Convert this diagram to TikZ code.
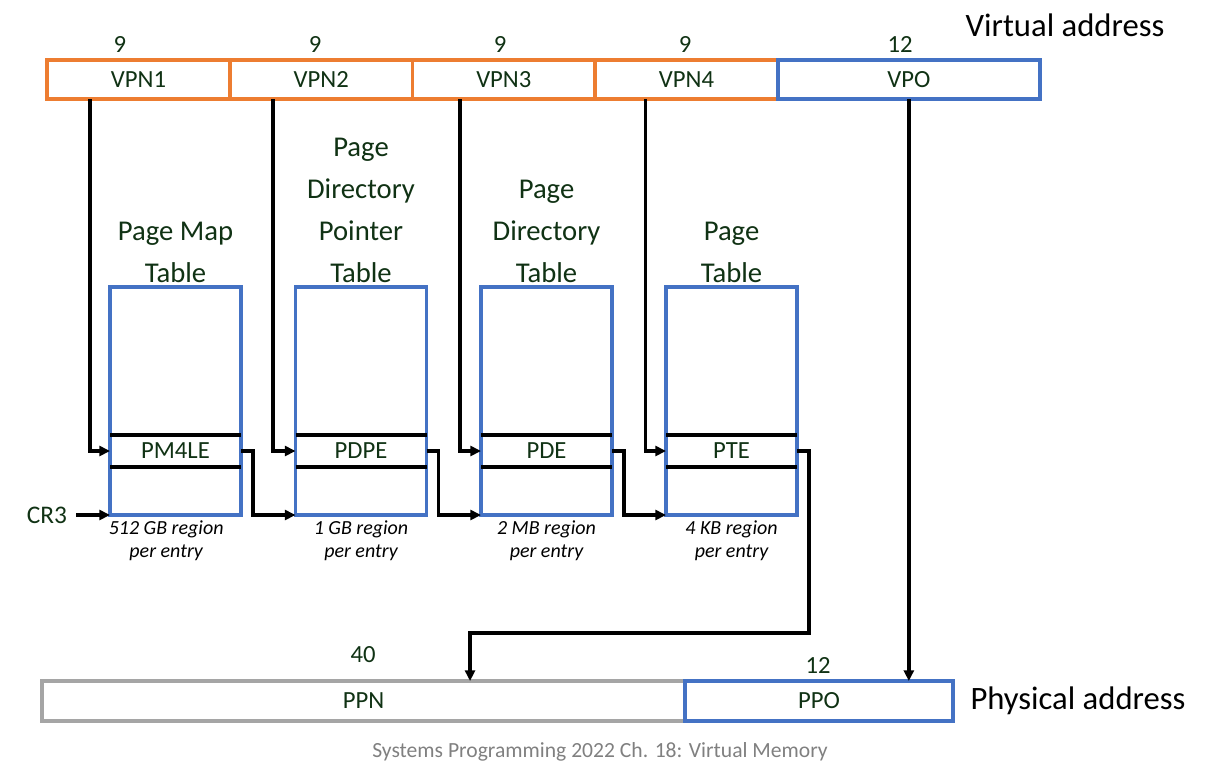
\documentclass[tikz,border=0pt]{standalone}
\usepackage{fontspec}
\setmainfont{Carlito}
\usetikzlibrary{arrows.meta,positioning,calc}
\definecolor{vorange}{RGB}{237,125,49}
\definecolor{vblue}{RGB}{68,114,196}
\definecolor{lgray}{RGB}{165,165,165}
\definecolor{dgreen}{RGB}{16,50,20}

\begin{document}
\begin{tikzpicture}[x=0.75pt, y=-0.75pt, line width=2.8pt,
    >={Triangle[length=8pt,width=7.5pt]},
    every node/.style={text=dgreen, inner sep=0pt, outer sep=0pt},
    field/.style={draw, minimum height=29.5pt, font=\fontsize{18.5}{22}\selectfont},
    tbl/.style={draw=vblue, minimum width=98.25pt, minimum height=171pt},
    entry/.style={minimum width=98.25pt, minimum height=24pt, font=\fontsize{18.5}{22}\selectfont},
    title/.style={align=center, font=\fontsize{21.5}{31.5}\selectfont},
    note/.style={align=center, text=black, font=\fontsize{15}{17.5}\selectfont\itshape},
    bits/.style={font=\fontsize{18.5}{22}\selectfont},
    addr/.style={text=black, font=\fontsize{24.5}{28}\selectfont}]
    \useasboundingbox (0,0) rectangle (1211,769);

    % virtual address
    \node[field, draw=vorange, minimum width=137pt] (vpn1) at (138.5,79.5) {VPN1};
    \node[field, draw=vorange, minimum width=137pt, right=0pt of vpn1] (vpn2) {VPN2};
    \node[field, draw=vorange, minimum width=137pt, right=0pt of vpn2] (vpn3) {VPN3};
    \node[field, draw=vorange, minimum width=137pt, right=0pt of vpn3] (vpn4) {VPN4};
    \node[field, draw=vblue, minimum width=196.5pt, right=0pt of vpn4] (vpo) {VPO};
    \node[bits] (b1) at (120,44) {9};
    \node[bits] (b2) at (315,44) {9};
    \node[bits] (b3) at (500,44) {9};
    \node[bits] (b4) at (685,44) {9};
    \node[bits] (b5) at (900,44) {12};
    \node[addr] (va) at (1065,25) {Virtual address};

    % page tables
    \node[tbl] (pml4t) at (175.5,401) {};
    \node[tbl] (pdpt) at (361,401) {};
    \node[tbl] (pdt) at (546.5,401) {};
    \node[tbl] (pt) at (731.5,401) {};
    \node[entry] (pm4le) at (175.5,451) {PM4LE};
    \node[entry] (pdpe) at (361,451) {PDPE};
    \node[entry] (pde) at (546.5,451) {PDE};
    \node[entry] (pte) at (731.5,451) {PTE};
    \foreach \e in {pm4le,pdpe,pde,pte} {
        \draw (\e.north west) -- (\e.north east);
        \draw (\e.south west) -- (\e.south east);
    }
    \node[title, above=3pt of pml4t] (t1) {Page Map\\Table};
    \node[title, above=3pt of pdpt] (t2) {Page\\Directory\\Pointer\\Table};
    \node[title, above=3pt of pdt] (t3) {Page\\Directory\\Table};
    \node[title, above=3pt of pt] (t4) {Page\\Table};
    \node[note, below=4pt of pml4t, xshift=-7pt] (n1) {512 GB region\\per entry};
    \node[note, below=4pt of pdpt] (n2) {1 GB region\\per entry};
    \node[note, below=4pt of pdt] (n3) {2 MB region\\per entry};
    \node[note, below=4pt of pt] (n4) {4 KB region\\per entry};
    \node[font=\fontsize{19}{22}\selectfont] (cr3) at (47,515) {CR3};

    % physical address
    \node[field, draw=lgray, minimum width=482.25pt, minimum height=30pt] (ppn) at (363.5,701) {PPN};
    \node[field, draw=vblue, minimum width=201pt, minimum height=30pt, right=0pt of ppn] (ppo) {PPO};
    \node[bits] (b6) at (363,655) {40};
    \node[bits] (b7) at (818,665) {12};
    \node[addr] (pa) at (1078,701) {Physical address};
    \node[text=gray, font=\fontsize{16.2}{19}\selectfont] (foot) at (600,752) {Systems Programming 2022 Ch. 18: Virtual Memory};

    % connectors
    \foreach \v/\e/\s in {vpn1/pm4le/36.4, vpn2/pdpe/36, vpn3/pde/33, vpn4/pte/30.8}
        \draw[->] ([xshift=-\s pt]\v.south) |- (\e.west);
    \foreach \e/\t in {pm4le/pdpt, pdpe/pdt, pde/pt}
        \draw[->] (\e.east) -- ++(12,0) |- (\t.south west);
    \draw[->, shorten <=7pt] (cr3.east) -- (pml4t.south west);
    \draw[->] (pte.east) -- ++(12,0) -- ++(0,182) -| ([xshift=79.9pt]ppn.north);
    \draw[->] (vpo.south) -- (vpo.south |- ppo.north);
\end{tikzpicture}
\end{document}
